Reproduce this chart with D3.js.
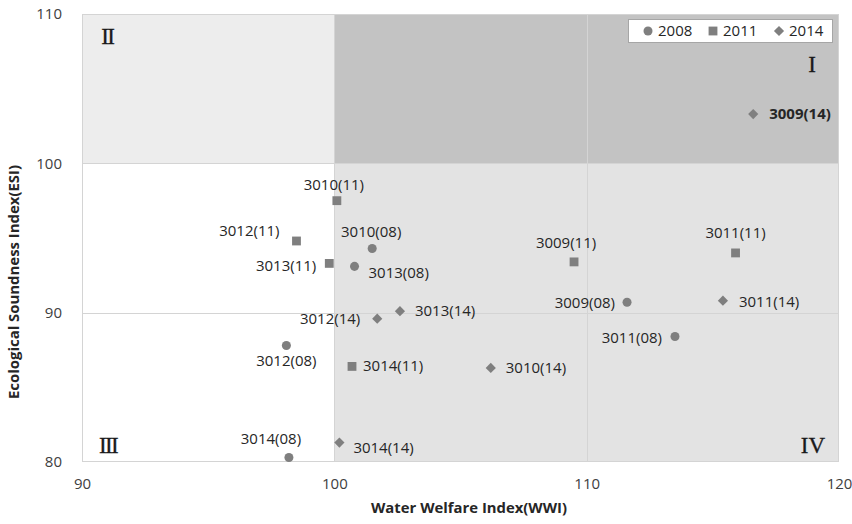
<!DOCTYPE html>
<html>
<head>
<meta charset="utf-8">
<script src="https://cdn.jsdelivr.net/npm/d3@7/dist/d3.min.js"></script>
<style>
  html, body { margin: 0; padding: 0; background: #ffffff; }
  svg { display: block; }
</style>
</head>
<body>
<svg id="chart" width="852" height="524"></svg>
<script>
// Region codes and survey years
const regions = ["3009", "3010", "3011", "3012", "3013", "3014"];
const years = ["2008", "2011", "2014"];
const yearTags = ["08", "11", "14"];

// Water Welfare Index (x) per region, by year
const wwi2008 = [111.6, 101.5, 113.5, 98.1, 100.8, 98.2];
const wwi2011 = [109.5, 100.1, 115.9, 98.5, 99.8, 100.7];
const wwi2014 = [116.6, 106.2, 115.4, 101.7, 102.6, 100.2];

// Ecological Soundness Index (y) per region, by year
const esi2008 = [90.7, 94.3, 88.4, 87.8, 93.1, 80.3];
const esi2011 = [93.4, 97.5, 94.0, 94.8, 93.3, 86.4];
const esi2014 = [103.3, 86.3, 90.8, 89.6, 90.1, 81.3];

// Axis ticks and quadrant split
const xTicks = [90, 100, 110, 120];
const yTicks = [80, 90, 100, 110];
const splitX = 100, splitY = 100;
const quadrantNames = ["I", "II", "III", "IV"];

// Label placement for each point: [dx, dy, anchor] in pixels around the marker
const labelLayout = {
  "3009(08)": [-12, 1, "end"],   "3010(08)": [-1, -17, "middle"],
  "3011(08)": [-13, 1, "end"],   "3012(08)": [0, 15, "middle"],
  "3013(08)": [14, 6, "start"],  "3014(08)": [-18, -19, "middle"],
  "3009(11)": [-8, -19, "middle"], "3010(11)": [-3, -16, "middle"],
  "3011(11)": [0, -20, "middle"], "3012(11)": [-17, -10, "end"],
  "3013(11)": [-13, 2, "end"],   "3014(11)": [11, -1, "start"],
  "3009(14)": [16, 0, "start"],  "3010(14)": [15, 0, "start"],
  "3011(14)": [16, 1, "start"],  "3012(14)": [-17, 0, "end"],
  "3013(14)": [15, 0, "start"],  "3014(14)": [14, 5, "start"]
};

const seriesX = [wwi2008, wwi2011, wwi2014];
const seriesY = [esi2008, esi2011, esi2014];
const shapes = [d3.symbolCircle, d3.symbolSquare, d3.symbolSquare];
const shapeSize = [64, 78, 52];
const shapeRotate = [0, 0, 45];

const points = [];
years.forEach((yr, s) => {
  regions.forEach((r, i) => {
    points.push({ s, name: `${r}(${yearTags[s]})`, x: seriesX[s][i], y: seriesY[s][i] });
  });
});

const svg = d3.select("#chart");
const plotL = 82, plotR = 839, plotT = 14, plotB = 462;
const x = d3.scaleLinear().domain([90, 120]).range([plotL, plotR]);
const y = d3.scaleLinear().domain([80, 110]).range([plotB, plotT]);

const font = "'Open Sans', sans-serif";
const markColor = "#7f7f7f";
const textColor = "#262626";

// Quadrant backgrounds
const quad = svg.append("g");
quad.append("rect").attr("x", x(splitX)).attr("y", y(110))
  .attr("width", x(120) - x(splitX)).attr("height", y(splitY) - y(110))
  .attr("fill", "#c3c3c3");
quad.append("rect").attr("x", x(90)).attr("y", y(110))
  .attr("width", x(splitX) - x(90)).attr("height", y(splitY) - y(110))
  .attr("fill", "#ededed");
quad.append("rect").attr("x", x(splitX)).attr("y", y(splitY))
  .attr("width", x(120) - x(splitX)).attr("height", y(80) - y(splitY))
  .attr("fill", "#e3e3e3");

// Gridlines
const grid = svg.append("g").attr("stroke", "#d4d4d4").attr("stroke-width", 1);
grid.selectAll("line.h").data(yTicks.filter(t => t > 80 && t < 110)).join("line")
  .attr("x1", plotL).attr("x2", plotR)
  .attr("y1", d => Math.round(y(d)) + 0.5).attr("y2", d => Math.round(y(d)) + 0.5);
grid.selectAll("line.v").data(xTicks.filter(t => t > 90 && t < 120)).join("line")
  .attr("y1", plotT).attr("y2", plotB)
  .attr("x1", d => Math.round(x(d)) + 0.5).attr("x2", d => Math.round(x(d)) + 0.5);

// Plot frame
svg.append("rect").attr("x", plotL + 0.5).attr("y", plotT + 0.5)
  .attr("width", plotR - plotL - 1).attr("height", plotB - plotT - 1)
  .attr("fill", "none").attr("stroke", "#d4d4d4");

// Axes (labels only)
const xAxis = d3.axisBottom(x).tickValues(xTicks).tickSize(0).tickPadding(16);
const yAxis = d3.axisLeft(y).tickValues(yTicks).tickSize(0).tickPadding(20);
const gx = svg.append("g").attr("transform", `translate(0,${plotB})`).call(xAxis);
const gy = svg.append("g").attr("transform", `translate(${plotL},0)`).call(yAxis);
[gx, gy].forEach(g => {
  g.select(".domain").remove();
  g.selectAll("text").attr("font-family", font).attr("font-size", 15).attr("fill", "#404040");
});

// Axis titles
svg.append("text").attr("x", 469).attr("y", 513)
  .attr("text-anchor", "middle").attr("font-family", font).attr("font-weight", "bold")
  .attr("font-size", 14).attr("textLength", 196).attr("lengthAdjust", "spacingAndGlyphs")
  .attr("fill", textColor).text("Water Welfare Index(WWI)");
svg.append("text").attr("transform", "translate(19,282) rotate(-90)")
  .attr("text-anchor", "middle").attr("font-family", font).attr("font-weight", "bold")
  .attr("font-size", 14).attr("textLength", 234).attr("lengthAdjust", "spacingAndGlyphs")
  .attr("fill", textColor).text("Ecological Soundness Index(ESI)");

// Quadrant numerals (serif, with touching serifs so the bars read as joined)
const numerals = [
  { t: quadrantNames[0], x: 118.9, y: 106.65 },
  { t: quadrantNames[1], x: 91.0, y: 108.53 },
  { t: quadrantNames[2], x: 91.03, y: 81.13 },
  { t: quadrantNames[3], x: 118.97, y: 81.13 }
];
svg.append("g").selectAll("text").data(numerals).join("text")
  .attr("x", d => x(d.x)).attr("y", d => y(d.y)).attr("dy", "0.34em")
  .attr("text-anchor", "middle").attr("font-family", "'Liberation Serif', 'DejaVu Serif', serif")
  .attr("font-size", 23)
  .attr("letter-spacing", d => d.t === "IV" ? 0 : -1.6)
  .attr("stroke", "#1a1a1a").attr("stroke-width", 0.3)
  .attr("fill", "#1a1a1a").text(d => d.t);

// Markers
const sym = d3.symbol();
svg.append("g").selectAll("path").data(points).join("path")
  .attr("transform", d => `translate(${x(d.x)},${y(d.y)}) rotate(${shapeRotate[d.s]})`)
  .attr("d", d => sym.type(shapes[d.s]).size(shapeSize[d.s])())
  .attr("fill", markColor);

// Data labels
svg.append("g").selectAll("text").data(points).join("text")
  .attr("x", d => x(d.x) + labelLayout[d.name][0])
  .attr("y", d => y(d.y) + labelLayout[d.name][1])
  .attr("dy", "0.35em")
  .attr("text-anchor", d => labelLayout[d.name][2])
  .attr("font-family", font).attr("font-size", 15)
  .attr("font-weight", d => d.name === "3009(14)" ? "bold" : "normal")
  .attr("fill", textColor).text(d => d.name);

// Legend
const lg = svg.append("g");
lg.append("rect").attr("x", 628.5).attr("y", 19.5).attr("width", 204).attr("height", 23)
  .attr("fill", "#ffffff").attr("stroke", "#a6a6a6");
const legendX = [648, 713, 779];
years.forEach((yr, s) => {
  lg.append("path")
    .attr("transform", `translate(${legendX[s]},31) rotate(${shapeRotate[s]})`)
    .attr("d", sym.type(shapes[s]).size(shapeSize[s])())
    .attr("fill", markColor);
  lg.append("text").attr("x", legendX[s] + 10).attr("y", 31).attr("dy", "0.35em")
    .attr("font-family", font).attr("font-size", 15).attr("fill", textColor).text(yr);
});
</script>
</body>
</html>
